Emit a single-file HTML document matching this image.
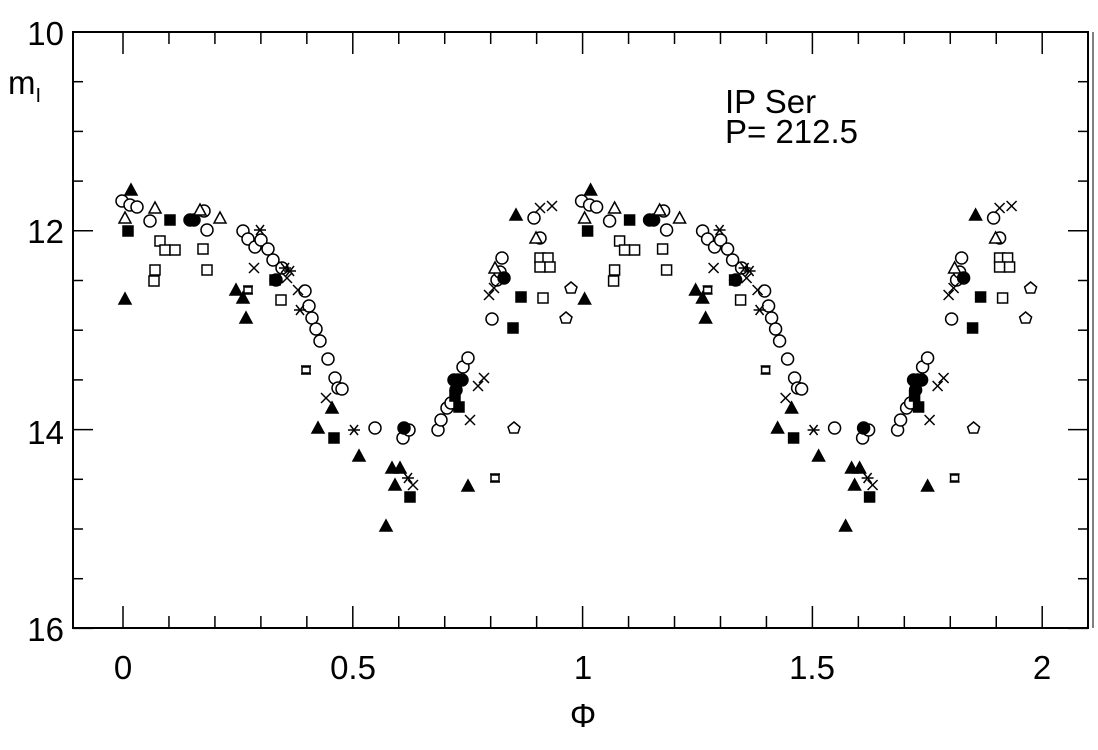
<!DOCTYPE html>
<html><head><meta charset="utf-8"><style>
body{margin:0;background:#fff}
svg{display:block}
text{font-family:"Liberation Sans",sans-serif;fill:#000}
</style></head><body>
<svg id="s" width="1098" height="750" viewBox="0 0 1098 750" xmlns="http://www.w3.org/2000/svg">
<rect x="73" y="32" width="1015" height="596" fill="none" stroke="#000" stroke-width="2"/>
<line x1="1093" y1="32" x2="1093" y2="628" stroke="#000" stroke-width="1"/>
<g id="ticks" stroke="#000" stroke-width="1.5"></g>
<g id="pts" stroke="#000" stroke-width="1.5"></g>
<g font-size="33">
<text x="64" y="45" text-anchor="end">10</text>
<text x="64" y="243" text-anchor="end">12</text>
<text x="64" y="444" text-anchor="end">14</text>
<text x="64" y="641" text-anchor="end">16</text>
<text x="123" y="679" text-anchor="middle">0</text>
<text x="353" y="679" text-anchor="middle">0.5</text>
<text x="583" y="679" text-anchor="middle">1</text>
<text x="812" y="679" text-anchor="middle">1.5</text>
<text x="1042" y="679" text-anchor="middle">2</text>
<text x="583" y="727" text-anchor="middle">Φ</text>
<text x="8" y="94">m<tspan font-size="20" dy="8">I</tspan></text>
<text x="725" y="113">IP Ser</text>
<text x="725" y="143">P= 212.5</text>
</g>
</svg>
<script>
const NS="http://www.w3.org/2000/svg";
const T=document.getElementById('ticks'),P=document.getElementById('pts');
function L(g,x1,y1,x2,y2){const l=document.createElementNS(NS,'line');l.setAttribute('x1',x1);l.setAttribute('y1',y1);l.setAttribute('x2',x2);l.setAttribute('y2',y2);g.appendChild(l);}
for(let i=0;i<=21;i++){const x=123+45.96*i;if(x>1088)break;const big=i%5==0;L(T,x,32,x,32+(big?22:12));L(T,x,628,x,628-(big?22:12));}
for(let i=0;i<=12;i++){const y=32+49.7*i;const big=i%4==0;L(T,73,y,73+(big?20:10),y);L(T,1088,y,1088-(big?20:10),y);}
function sh(el,a){for(const k in a)el.setAttribute(k,a[k]);P.appendChild(el);return el;}
function E(n){return document.createElementNS(NS,n);}
const r=6;
function draw(t,x,y){
 if(t=='o')sh(E('circle'),{cx:x,cy:y,r:r,fill:'#fff'});
 else if(t=='O')sh(E('circle'),{cx:x,cy:y,r:r,fill:'#000'});
 else if(t=='t')sh(E('polygon'),{points:`${x},${y-6} ${x-6},${y+5} ${x+6},${y+5}`,fill:'#fff'});
 else if(t=='T')sh(E('polygon'),{points:`${x},${y-6} ${x-6},${y+5} ${x+6},${y+5}`,fill:'#000'});
 else if(t=='s')sh(E('rect'),{x:x-5,y:y-5,width:10,height:10,fill:'#fff'});
 else if(t=='S')sh(E('rect'),{x:x-5,y:y-5,width:10,height:10,fill:'#000'});
 else if(t=='x'){L(P,x-5,y-5,x+5,y+5);L(P,x-5,y+5,x+5,y-5);}
 else if(t=='a'){L(P,x-6,y,x+6,y);L(P,x-4,y-5,x+4,y+5);L(P,x-4,y+5,x+4,y-5);}
 else if(t=='q'){sh(E('rect'),{x:x-4,y:y-3,width:8,height:6,fill:'#fff'});L(P,x-5,y-4,x+5,y-4);L(P,x-5,y+4,x+5,y+4);}
 else if(t=='p')sh(E('polygon'),{points:`${x},${y-6} ${x+6},${y-1} ${x+4},${y+5} ${x-4},${y+5} ${x-6},${y-1}`,fill:'#fff'});
}
const D={
o:[[122,201],[130,205],[137,207],[150,221],[204,211],[207,230],[243,231],[248,239],[255,247],[261,240],[268,249],[273,260],[282,268],[305,291],[309,306],[312,318],[316,329],[320,341],[328,359],[335,378],[338,388],[342,389],[375,428],[403,438],[409,430],[438,430],[441,420],[447,408],[451,403],[458,380],[463,367],[468,358],[492,319],[497,280],[500,272],[502,258],[534,218],[540,238]],
O:[[190,220],[194,220],[276,280],[404,428],[454,380],[462,380],[456,390],[504,278]],
t:[[125,218],[155,208],[200,210],[220,218],[495,268],[536,238]],
T:[[131,190],[125,299],[236,290],[243,298],[246,318],[332,408],[318,428],[359,456],[392,468],[395,485],[400,468],[386,526],[468,486],[516,215]],
S:[[128,231],[170,220],[275,280],[334,438],[410,497],[455,396],[459,407],[521,297],[513,328]],
s:[[160,241],[165,250],[175,250],[203,249],[155,270],[154,281],[207,270],[281,300],[540,258],[548,258],[540,267],[550,267],[543,298]],
x:[[254,268],[298,290],[287,278],[326,398],[413,485],[470,420],[478,386],[484,378],[489,295],[494,288],[540,208],[552,206]],
a:[[260,230],[285,268],[290,271],[300,310],[354,430],[408,478]],
q:[[248,290],[306,370],[495,478]],
p:[[514,428],[566,318],[571,288]]};
for(const off of [0,459.6])for(const k in D)for(const [x,y] of D[k]){if(x+off<1088)draw(k,x+off,y);}
</script>
</body></html>
